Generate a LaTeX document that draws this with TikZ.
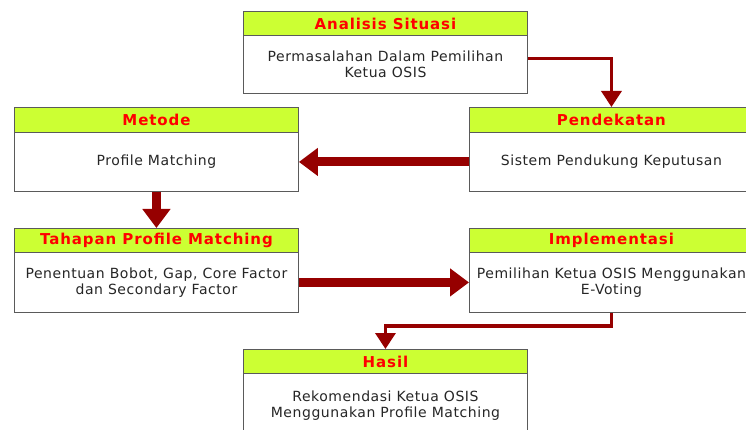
\documentclass[tikz,border=0pt]{standalone}
\usepackage{fontspec}
\setmainfont{DejaVu Sans}
\newfontfamily\bodyfnt[LetterSpace=4]{DejaVu Sans}
\newfontfamily\titlefnt[LetterSpace=6]{DejaVu Sans Bold}
\usetikzlibrary{arrows.meta}
\definecolor{hdrgreen}{RGB}{204,255,51}
\definecolor{boxgray}{RGB}{90,90,90}
\definecolor{arrowred}{RGB}{150,0,0}
\definecolor{titlered}{RGB}{255,0,0}
\begin{document}
\begin{tikzpicture}[x=1pt,y=-1pt,
  hdr/.style={draw=boxgray, line width=0.9pt, fill=hdrgreen, minimum width=284pt, minimum height=24pt, anchor=north west, inner sep=0pt, font=\titlefnt\fontsize{15}{17}\selectfont, text=titlered},
  bodybox/.style={draw=boxgray, line width=0.9pt, fill=white, minimum width=284pt, anchor=north west, inner sep=0pt, align=center, font=\bodyfnt\fontsize{14}{16}\selectfont, text=black!85},
  thickarrow/.style={draw=arrowred, line width=9pt, -{Triangle[length=19pt,width=27pt]}, arrowred},
  thinarrow/.style={draw=arrowred, line width=3.5pt, -{Triangle[length=16pt,width=20pt]}, arrowred}
]
\useasboundingbox (0,0) rectangle (746,430);
% Analisis Situasi
\node[bodybox, minimum height=58pt] (asb) at (243,35) {Permasalahan Dalam Pemilihan\\Ketua OSIS};
\node[hdr] (ash) at (243,11) {Analisis Situasi};
% Pendekatan
\node[bodybox, minimum height=59pt] (pdb) at (469,132) {Sistem Pendukung Keputusan};
\node[hdr, minimum height=25pt] (pdh) at (469,107) {Pendekatan};
% Metode
\node[bodybox, minimum height=59pt] (mtb) at (14,132) {Profile Matching};
\node[hdr, minimum height=25pt] (mth) at (14,107) {Metode};
% Tahapan
\node[bodybox, minimum height=60pt] (tpb) at (14,252) {Penentuan Bobot, Gap, Core Factor\\dan Secondary Factor};
\node[hdr] (tph) at (14,228) {Tahapan Profile Matching};
% Implementasi
\node[bodybox, minimum height=60pt] (imb) at (469,252) {Pemilihan Ketua OSIS Menggunakan\\E-Voting};
\node[hdr] (imh) at (469,228) {Implementasi};
% Hasil
\node[bodybox, minimum height=64pt] (hsb) at (243,373) {Rekomendasi Ketua OSIS\\Menggunakan Profile Matching};
\node[hdr] (hsh) at (243,349) {Hasil};
% connectors
\draw[thinarrow] ([yshift=6pt]asb.east) -| (pdh.north);
\draw[thickarrow] (pdb.west) -- (mtb.east);
\draw[thickarrow] (mtb.south) -- (tph.north);
\draw[thickarrow] (tpb.east) -- (imb.west);
\coordinate (turn) at ([yshift=-13pt]imb.south);
\draw[thinarrow] (imb.south) -- (turn) -| (hsh.north);
\end{tikzpicture}
\end{document}
